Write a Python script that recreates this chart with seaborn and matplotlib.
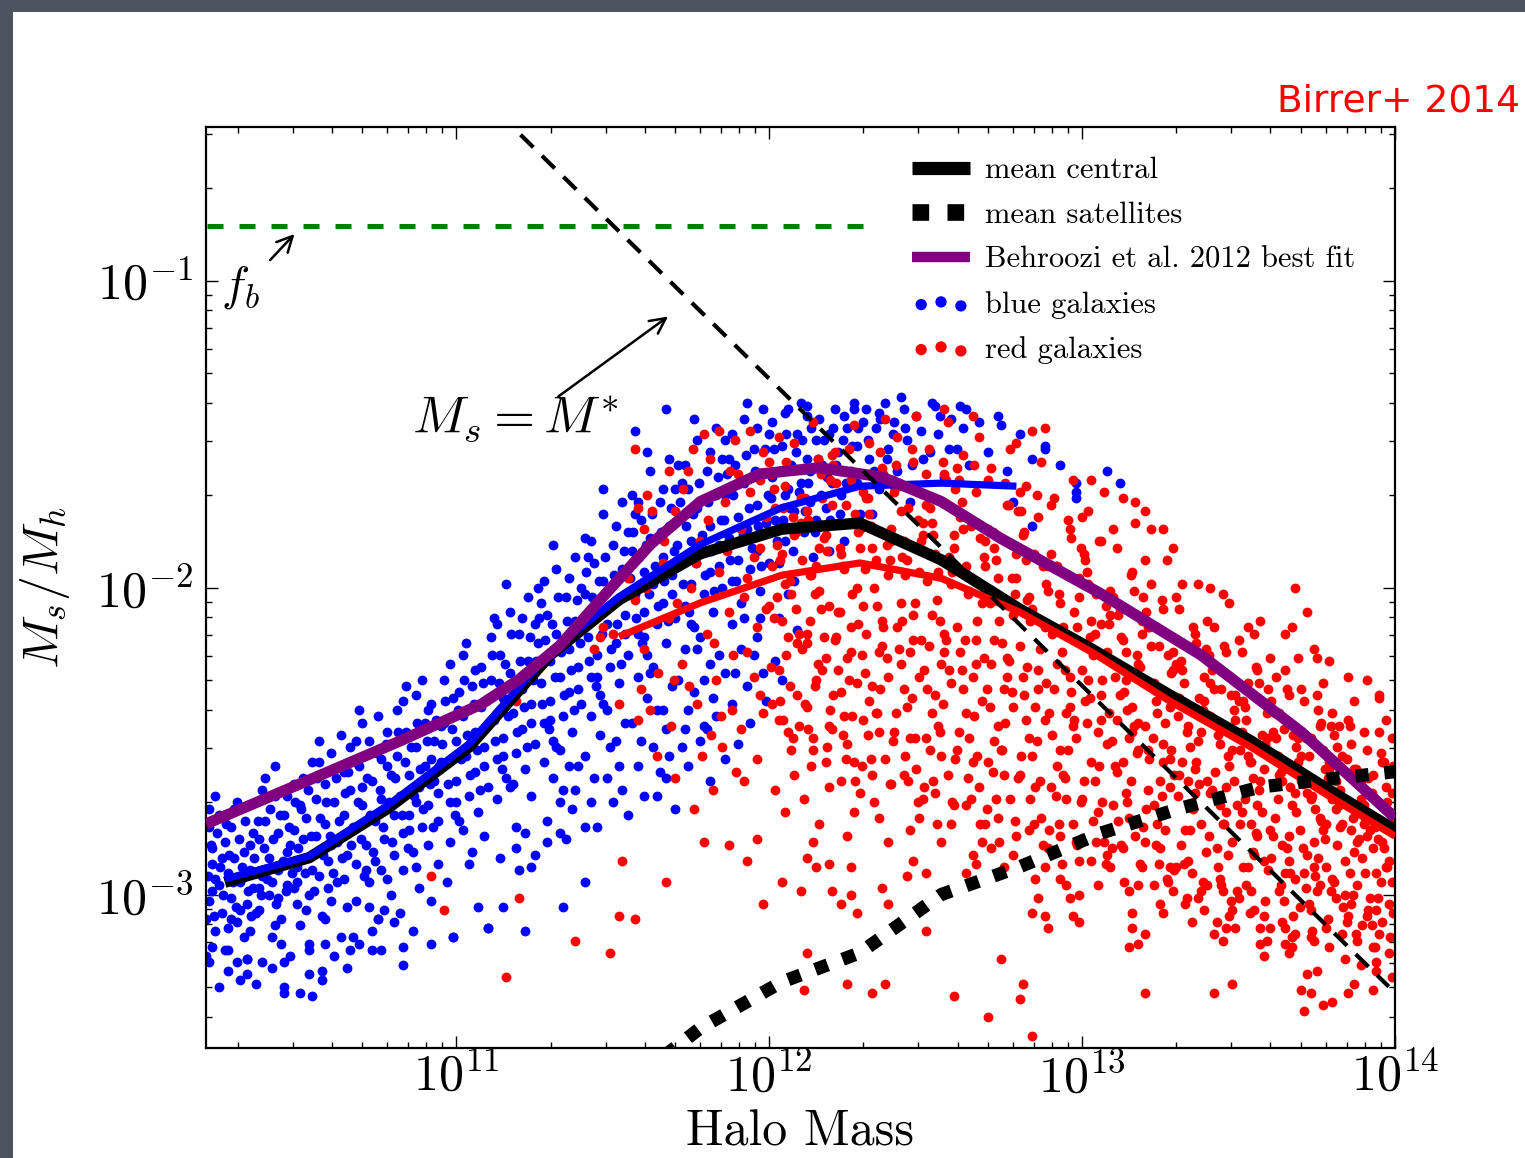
import numpy as np
import matplotlib
matplotlib.use("Agg")
import matplotlib.pyplot as plt
import seaborn as sns
from matplotlib.lines import Line2D
from matplotlib.patches import Rectangle

# ---------------- data (log10 halo mass, log10 Ms/Mh) ----------------
central_logmh = [10.26, 10.53, 10.78, 11.04, 11.30, 11.52, 11.78, 12.04, 12.29, 12.55, 12.80, 13.03, 13.28, 13.54, 13.79, 14.00]
central_logr = [-2.96, -2.88, -2.72, -2.52, -2.22, -2.04, -1.89, -1.81, -1.79, -1.91, -2.07, -2.20, -2.35, -2.50, -2.66, -2.79]

bluemean_logmh = [10.26, 10.53, 10.78, 11.04, 11.30, 11.52, 11.78, 12.04, 12.29, 12.55, 12.79]
bluemean_logr = [-2.95, -2.875, -2.71, -2.51, -2.21, -2.03, -1.86, -1.74, -1.67, -1.66, -1.67]

redmean_logmh = [11.52, 11.78, 12.04, 12.29, 12.55, 12.80, 13.03, 13.28, 13.54, 13.79, 14.00]
redmean_logr = [-2.16, -2.05, -1.96, -1.92, -1.97, -2.08, -2.21, -2.37, -2.52, -2.68, -2.81]

behroozi_logmh = [10.20, 10.50, 10.82, 11.08, 11.20, 11.33, 11.46, 11.62, 11.78, 11.97, 12.16, 12.36, 12.55, 12.74, 13.06, 13.38, 13.70, 14.00]
behroozi_logr = [-2.77, -2.64, -2.50, -2.38, -2.30, -2.19, -2.04, -1.86, -1.72, -1.63, -1.61, -1.64, -1.72, -1.84, -2.02, -2.22, -2.47, -2.75]

sat_logmh = [11.52, 11.78, 12.04, 12.29, 12.55, 12.80, 13.06, 13.31, 13.57, 13.82, 14.00]
sat_logr = [-3.64, -3.435, -3.285, -3.19, -3.00, -2.91, -2.80, -2.72, -2.65, -2.62, -2.60]

mstar_logmh = [11.00, 13.98]
mstar_logr = [-0.32, -3.30]

fb_logmh = [10.00, 12.31]
fb_logr = [-0.822, -0.822]

BLUE_PTS = [
(10.21,-2.78),(10.22,-2.90),(10.21,-3.02),(10.23,-3.12),(10.22,-2.85),(10.24,-2.97),(10.25,-3.06),(10.24,-2.74),(10.26,-2.83),(10.27,-2.93),(10.26,-3.18),(10.28,-3.01),(10.29,-2.88),(10.28,-2.78),(10.30,-3.09),(10.31,-2.96),(10.30,-2.70),(10.32,-2.86),(10.33,-3.03),(10.33,-3.21),(10.34,-2.92),(10.35,-2.80),(10.34,-3.12),(10.21,-3.22),(10.23,-2.68),(10.27,-3.25),(10.29,-2.72),(10.32,-3.14),(10.25,-2.88),(10.22,-2.99),(10.28,-3.08),(10.35,-2.98),(10.31,-3.28),(10.24,-3.30),(10.20,-3.08),(10.36,-3.06),
(10.36,-2.70),(10.37,-2.82),(10.38,-2.94),(10.37,-3.05),(10.39,-2.76),(10.40,-2.88),(10.40,-3.00),(10.41,-3.14),(10.42,-2.68),(10.43,-2.80),(10.43,-2.92),(10.44,-3.08),(10.45,-2.74),(10.46,-2.86),(10.46,-2.97),(10.47,-3.20),(10.48,-2.64),(10.48,-2.79),(10.49,-2.91),(10.49,-3.03),(10.50,-2.71),(10.38,-3.22),(10.42,-2.58),(10.45,-3.30),(10.41,-2.96),(10.47,-2.84),(10.39,-2.62),(10.44,-3.16),(10.50,-3.10),(10.36,-2.93),(10.43,-3.01),(10.48,-2.98),
(10.51,-2.62),(10.52,-2.75),(10.52,-2.88),(10.53,-3.00),(10.54,-2.57),(10.55,-2.69),(10.55,-2.81),(10.56,-2.94),(10.57,-3.07),(10.58,-2.64),(10.58,-2.77),(10.59,-2.89),(10.60,-3.02),(10.60,-2.54),(10.61,-2.70),(10.62,-2.83),(10.62,-2.96),(10.63,-3.14),(10.64,-2.60),(10.64,-2.74),(10.65,-2.87),(10.53,-3.16),(10.57,-3.25),(10.61,-3.20),(10.56,-2.50),(10.63,-2.48),(10.59,-2.98),(10.54,-2.92),(10.65,-3.04),(10.51,-2.82),
(10.66,-2.52),(10.66,-2.66),(10.67,-2.78),(10.68,-2.90),(10.68,-3.02),(10.69,-2.58),(10.70,-2.44),(10.70,-2.71),(10.71,-2.84),(10.72,-2.96),(10.72,-2.50),(10.73,-2.63),(10.74,-2.76),(10.74,-2.89),(10.75,-3.08),(10.76,-2.56),(10.76,-2.69),(10.77,-2.82),(10.78,-2.95),(10.78,-2.47),(10.79,-2.61),(10.80,-2.74),(10.80,-2.87),(10.67,-3.14),(10.73,-3.18),(10.77,-3.05),(10.69,-2.40),(10.75,-2.42),(10.71,-2.92),(10.79,-3.00),
(10.81,-2.40),(10.81,-2.55),(10.82,-2.68),(10.83,-2.80),(10.83,-2.92),(10.84,-2.47),(10.85,-2.61),(10.85,-2.74),(10.86,-2.86),(10.87,-2.35),(10.87,-2.52),(10.88,-2.65),(10.88,-2.98),(10.89,-2.78),(10.90,-2.44),(10.90,-2.58),(10.91,-2.71),(10.91,-2.84),(10.92,-2.38),(10.93,-2.50),(10.93,-2.63),(10.94,-2.76),(10.94,-2.90),(10.95,-2.45),(10.82,-3.06),(10.86,-3.12),(10.92,-3.02),(10.89,-2.30),(10.84,-2.32),(10.95,-2.57),(10.87,-2.70),(10.92,-2.56),
(10.96,-2.30),(10.96,-2.44),(10.97,-2.57),(10.98,-2.70),(10.98,-2.83),(10.99,-2.36),(11.00,-2.50),(11.00,-2.63),(11.01,-2.76),(11.02,-2.22),(11.02,-2.42),(11.03,-2.55),(11.04,-2.68),(11.04,-2.90),(11.05,-2.32),(11.06,-2.47),(11.06,-2.60),(11.07,-2.73),(11.08,-2.26),(11.08,-2.39),(11.09,-2.52),(11.09,-2.81),(11.10,-2.65),(10.99,-3.14),(11.07,-3.04),(11.10,-3.11),(10.97,-2.96),(11.03,-2.18),(11.05,-2.86),(11.01,-2.34),
(11.11,-2.16),(11.11,-2.30),(11.12,-2.43),(11.13,-2.56),(11.13,-2.69),(11.14,-2.22),(11.15,-2.36),(11.15,-2.49),(11.16,-2.62),(11.17,-2.08),(11.17,-2.28),(11.18,-2.41),(11.19,-2.54),(11.19,-2.78),(11.20,-2.15),(11.21,-2.33),(11.21,-2.46),(11.22,-2.59),(11.23,-2.03),(11.23,-2.24),(11.24,-2.38),(11.24,-2.68),(11.25,-2.12),(11.14,-2.88),(11.20,-2.92),(11.16,-1.99),(11.25,-2.51),(11.12,-2.10),(11.18,-2.64),(11.22,-2.80),
(11.26,-2.00),(11.26,-2.18),(11.27,-2.31),(11.28,-2.44),(11.28,-2.57),(11.29,-2.09),(11.30,-2.24),(11.30,-2.37),(11.31,-2.50),(11.32,-1.94),(11.32,-2.15),(11.33,-2.29),(11.34,-2.42),(11.34,-2.66),(11.35,-2.03),(11.36,-2.20),(11.36,-2.34),(11.37,-2.47),(11.38,-1.90),(11.38,-2.11),(11.39,-2.26),(11.39,-2.58),(11.40,-2.00),(11.29,-2.76),(11.35,-2.82),(11.31,-1.86),(11.40,-2.38),(11.27,-2.05),(11.33,-2.53),(11.37,-2.72),
(11.41,-1.84),(11.41,-2.02),(11.42,-2.16),(11.43,-2.29),(11.43,-2.42),(11.44,-1.92),(11.45,-2.08),(11.45,-2.22),(11.46,-2.35),(11.47,-1.76),(11.47,-1.98),(11.48,-2.12),(11.49,-2.26),(11.49,-2.52),(11.50,-1.86),(11.51,-2.04),(11.51,-2.18),(11.52,-2.31),(11.53,-1.72),(11.53,-1.94),(11.54,-2.09),(11.54,-2.44),(11.55,-1.82),(11.44,-2.62),(11.50,-2.70),(11.47,-1.68),(11.55,-2.22),(11.42,-1.90),(11.48,-2.40),(11.52,-2.58),(11.57,-1.49),
(11.56,-1.70),(11.56,-1.88),(11.57,-2.02),(11.58,-2.15),(11.58,-2.29),(11.59,-1.78),(11.60,-1.95),(11.60,-2.08),(11.61,-2.22),(11.62,-1.62),(11.62,-1.84),(11.63,-1.99),(11.64,-2.12),(11.64,-2.40),(11.65,-1.72),(11.66,-1.90),(11.66,-2.05),(11.67,-2.18),(11.68,-1.58),(11.68,-1.80),(11.69,-1.96),(11.69,-2.32),(11.70,-1.68),(11.59,-2.50),(11.65,-2.60),(11.61,-1.56),(11.70,-2.10),(11.57,-1.76),(11.63,-2.26),(11.67,-2.46),
(11.71,-1.60),(11.71,-1.78),(11.72,-1.92),(11.73,-2.06),(11.73,-2.20),(11.74,-1.68),(11.75,-1.85),(11.75,-1.99),(11.76,-2.13),(11.77,-1.52),(11.77,-1.74),(11.78,-1.89),(11.79,-2.02),(11.79,-2.30),(11.80,-1.62),(11.81,-1.80),(11.81,-1.95),(11.82,-2.08),(11.83,-1.48),(11.83,-1.70),(11.84,-1.86),(11.84,-2.22),(11.85,-1.58),(11.74,-2.40),(11.80,-2.46),(11.76,-1.45),(11.85,-2.00),(11.72,-1.66),(11.78,-2.16),(11.82,-2.36),
(11.86,-1.52),(11.86,-1.70),(11.87,-1.84),(11.88,-1.98),(11.88,-2.12),(11.89,-1.60),(11.90,-1.77),(11.90,-1.91),(11.91,-2.05),(11.92,-1.45),(11.92,-1.66),(11.93,-1.81),(11.94,-1.94),(11.95,-1.55),(11.96,-1.73),(11.96,-1.88),(11.97,-2.01),(11.98,-1.42),(11.98,-1.63),(11.99,-1.79),(12.00,-1.50),(11.89,-2.28),(11.95,-2.22),(11.93,-1.40),(12.00,-1.92),(11.87,-1.58),(11.97,-2.10),
(12.01,-1.46),(12.01,-1.64),(12.02,-1.78),(12.03,-1.92),(12.04,-1.54),(12.05,-1.70),(12.05,-1.85),(12.06,-1.42),(12.07,-1.60),(12.08,-1.75),(12.08,-1.98),(12.09,-1.50),(12.10,-1.66),(12.11,-1.82),(12.12,-1.44),(12.12,-1.58),(12.13,-1.72),(12.14,-1.90),(12.15,-1.52),(12.03,-2.10),(12.10,-1.40),(12.06,-1.68),(12.13,-1.62),(12.15,-1.78),
(12.16,-1.45),(12.17,-1.60),(12.18,-1.74),(12.19,-1.50),(12.20,-1.66),(12.21,-1.42),(12.22,-1.56),(12.23,-1.70),(12.24,-1.85),(12.25,-1.48),(12.26,-1.62),(12.27,-1.40),(12.28,-1.54),(12.29,-1.76),(12.30,-1.46),(12.19,-1.88),(12.24,-1.44),(12.28,-1.66),
(12.31,-1.42),(12.32,-1.58),(12.34,-1.48),(12.35,-1.68),(12.37,-1.40),(12.38,-1.55),(12.40,-1.46),(12.41,-1.62),(12.43,-1.42),(12.44,-1.52),(12.45,-1.72),(12.33,-1.76),(12.39,-1.84),(12.42,-1.38),
(12.47,-1.44),(12.49,-1.58),(12.52,-1.40),(12.54,-1.50),(12.56,-1.64),(12.58,-1.45),(12.60,-1.55),(12.63,-1.42),(12.64,-1.60),(12.50,-1.70),
(12.67,-1.46),(12.70,-1.56),(12.73,-1.44),(12.76,-1.62),(12.80,-1.50),(12.84,-1.58),(12.88,-1.54),(12.93,-1.60),(12.98,-1.66),(13.08,-1.62),(12.78,-1.72),
(11.67,-1.42),(12.05,-1.43),(12.12,-1.41),(12.27,-1.42),(12.35,-1.43),(12.53,-1.41),(12.61,-1.41),(12.74,-1.47),(12.88,-1.55),(12.98,-1.69),(13.12,-1.66),(12.98,-1.71),(12.84,-1.80),
(10.22,-3.17),(10.27,-3.18),(10.30,-3.22),(10.33,-3.26),(10.36,-3.29),(10.33,-3.21),(10.41,-3.24),(10.45,-3.32),(10.50,-3.32),(10.54,-3.33),(10.53,-3.26),(10.57,-3.28),(10.53,-3.18),(10.58,-3.16),(10.65,-3.24),(10.66,-3.18),(10.69,-3.16),(10.76,-3.18),(10.83,-3.17),(10.83,-3.23),(10.92,-3.16),(10.99,-3.14),(11.10,-3.11),(10.45,-3.22),(10.75,-3.08),(10.73,-3.12),(10.80,-3.09),(10.20,-3.20),
(11.19,-2.85),(11.25,-2.87),(11.24,-2.91),(11.41,-2.96),(11.34,-3.04),(11.22,-3.12),(11.15,-3.04),(11.33,-2.80),(11.41,-2.78),(11.29,-2.83),(11.60,-2.68),(11.67,-2.62),(11.74,-2.58),(11.81,-2.63),(11.90,-2.51),(11.99,-2.37),(11.72,-2.52),(11.79,-2.45),
(10.205,-2.94),(10.215,-2.84),(10.225,-3.07),(10.235,-2.80),(10.245,-2.91),(10.255,-3.00),(10.265,-2.77),(10.275,-2.87),(10.285,-2.96),(10.295,-3.04),(10.305,-2.82),(10.315,-2.91),(10.325,-2.76),(10.335,-2.99),(10.345,-3.07),(10.23,-2.95),(10.27,-3.11),(10.31,-3.05),(10.21,-2.72),(10.34,-2.84),
(10.355,-2.88),(10.365,-2.76),(10.375,-3.00),(10.385,-2.85),(10.395,-2.95),(10.405,-2.72),(10.415,-2.82),(10.425,-3.03),(10.435,-2.74),(10.445,-2.89),(10.455,-2.99),(10.465,-2.78),(10.475,-2.93),(10.485,-2.70),(10.495,-2.85),(10.38,-2.66),(10.42,-3.10),(10.46,-2.68),(10.37,-2.98),(10.49,-2.96),
(10.505,-2.72),(10.515,-2.93),(10.525,-2.66),(10.535,-2.81),(10.545,-2.99),(10.555,-2.62),(10.565,-2.75),(10.575,-2.87),(10.585,-2.70),(10.595,-2.81),(10.605,-2.93),(10.615,-2.62),(10.625,-2.76),(10.635,-2.88),(10.645,-2.67),(10.52,-3.05),(10.56,-2.57),(10.60,-2.84),(10.64,-2.95),(10.58,-3.08),
(10.655,-2.60),(10.665,-2.84),(10.675,-2.57),(10.685,-2.70),(10.695,-2.82),(10.705,-2.94),(10.715,-2.62),(10.725,-2.74),(10.735,-2.86),(10.745,-2.54),(10.755,-2.66),(10.765,-2.78),(10.775,-2.51),(10.785,-2.70),(10.795,-2.83),(10.68,-2.50),(10.72,-3.04),(10.76,-2.92),(10.70,-2.65),(10.78,-2.58),
(10.805,-2.62),(10.815,-2.47),(10.825,-2.74),(10.835,-2.57),(10.845,-2.85),(10.855,-2.52),(10.865,-2.68),(10.875,-2.44),(10.885,-2.59),(10.895,-2.72),(10.905,-2.50),(10.915,-2.64),(10.925,-2.78),(10.935,-2.43),(10.945,-2.58),(10.83,-2.37),(10.87,-2.91),(10.91,-2.40),(10.85,-2.79),(10.94,-2.67),
(10.955,-2.51),(10.965,-2.37),(10.975,-2.64),(10.985,-2.46),(10.995,-2.74),(11.005,-2.40),(11.015,-2.56),(11.025,-2.30),(11.035,-2.48),(11.045,-2.61),(11.055,-2.38),(11.065,-2.53),(11.075,-2.66),(11.085,-2.31),(11.095,-2.45),(10.98,-2.25),(11.02,-2.79),(11.06,-2.27),(11.00,-2.70),(11.09,-2.58),
(11.105,-2.36),(11.115,-2.22),(11.125,-2.50),(11.135,-2.31),(11.145,-2.59),(11.155,-2.25),(11.165,-2.42),(11.175,-2.15),(11.185,-2.33),(11.195,-2.47),(11.205,-2.24),(11.215,-2.39),(11.225,-2.52),(11.235,-2.16),(11.245,-2.30),(11.13,-2.12),(11.17,-2.65),(11.21,-2.10),(11.15,-2.55),(11.24,-2.44),
(11.255,-2.24),(11.265,-2.10),(11.275,-2.38),(11.285,-2.17),(11.295,-2.46),(11.305,-2.12),(11.315,-2.29),(11.325,-2.03),(11.335,-2.21),(11.345,-2.35),(11.355,-2.11),(11.365,-2.27),(11.375,-2.40),(11.385,-2.04),(11.395,-2.18),(11.28,-1.98),(11.32,-2.52),(11.36,-1.97),(11.30,-2.43),(11.39,-2.33),
(11.405,-2.10),(11.415,-1.95),(11.425,-2.24),(11.435,-2.03),(11.445,-2.32),(11.455,-1.98),(11.465,-2.15),(11.475,-1.90),(11.485,-2.06),(11.495,-2.20),(11.505,-1.96),(11.515,-2.12),(11.525,-2.25),(11.535,-1.88),(11.545,-2.02),(11.43,-1.85),(11.47,-2.38),(11.51,-1.80),(11.45,-2.29),(11.54,-2.15),
(11.555,-1.97),(11.565,-1.82),(11.575,-2.10),(11.585,-1.90),(11.595,-2.18),(11.605,-1.86),(11.615,-2.02),(11.625,-1.76),(11.635,-1.93),(11.645,-2.06),(11.655,-1.82),(11.665,-1.98),(11.675,-2.11),(11.685,-1.74),(11.695,-1.88),(11.58,-1.72),(11.62,-2.28),(11.66,-1.68),(11.60,-2.16),(11.69,-2.02),
(11.705,-1.86),(11.715,-1.72),(11.725,-1.99),(11.735,-1.80),(11.745,-2.08),(11.755,-1.76),(11.765,-1.92),(11.775,-1.66),(11.785,-1.83),(11.795,-1.96),(11.805,-1.72),(11.815,-1.88),(11.825,-2.01),(11.835,-1.64),(11.845,-1.78),(11.73,-1.60),(11.77,-2.20),(11.81,-1.56),(11.75,-2.12),(11.84,-1.93),
(11.855,-1.78),(11.865,-1.63),(11.875,-1.91),(11.885,-1.70),(11.895,-1.98),(11.905,-1.66),(11.915,-1.83),(11.925,-1.57),(11.935,-1.74),(11.945,-1.87),(11.955,-1.62),(11.965,-1.80),(11.975,-1.93),(11.985,-1.55),(11.995,-1.70),(11.88,-1.50),(11.92,-2.10),(11.96,-1.48),
(12.005,-1.71),(12.015,-1.55),(12.025,-1.85),(12.035,-1.62),(12.045,-1.78),(12.055,-1.50),(12.065,-1.74),(12.075,-1.88),(12.085,-1.56),(12.095,-1.69),(12.105,-1.52),(12.115,-1.75),(12.125,-1.66),(12.135,-1.48),(12.145,-1.82),
(12.155,-1.58),(12.165,-1.70),(12.175,-1.52),(12.185,-1.64),(12.195,-1.78),(12.205,-1.48),(12.215,-1.60),(12.225,-1.76),(12.235,-1.52),(12.245,-1.66),(12.265,-1.54),(12.285,-1.48),
(12.315,-1.52),(12.335,-1.62),(12.355,-1.45),(12.375,-1.58),(12.395,-1.50),(12.415,-1.66),(12.435,-1.48),(12.455,-1.60),(12.485,-1.49),(12.515,-1.56),(12.545,-1.44),(12.575,-1.55),(12.62,-1.48),
(11.31,-2.62),(11.33,-2.70),(11.36,-2.58),(11.38,-2.66),(11.41,-2.55),(11.43,-2.70),(11.46,-2.48),(11.48,-2.62),(11.51,-2.50),(11.53,-2.66),(11.56,-2.44),(11.58,-2.58),(11.61,-2.36),(11.63,-2.52),(11.66,-2.40),(11.68,-2.55),(11.71,-2.30),(11.73,-2.46),(11.76,-2.34),(11.78,-2.50),(11.81,-2.25),(11.83,-2.42),(11.86,-2.28),(11.88,-2.38),(11.91,-2.20),(11.93,-2.32),(11.96,-2.16),(11.98,-2.28),(11.45,-2.78),(11.55,-2.74),(11.64,-2.68),(11.70,-2.72),(11.86,-2.56),(11.94,-2.44),(12.02,-2.24),(12.06,-2.02),(12.09,-2.14),(12.04,-2.30),
]

RED_PTS = [
(11.57,-1.55),(11.58,-1.74),(11.60,-1.81),(11.61,-1.70),(11.55,-1.97),(11.57,-2.04),(11.47,-2.13),(11.46,-2.16),(11.50,-2.15),(11.44,-2.20),(11.60,-2.20),(11.59,-2.33),(11.52,-2.38),(11.58,-2.43),(11.66,-1.92),(11.68,-2.10),(11.70,-1.75),(11.72,-2.25),(11.74,-1.62),(11.75,-2.00),(11.77,-2.38),(11.78,-1.85),(11.80,-2.15),(11.81,-1.58),(11.83,-2.30),(11.84,-1.95),(11.85,-2.52),(11.86,-1.72),(11.87,-2.08),(11.88,-2.40),(11.89,-1.52),(11.64,-2.55),(11.70,-2.62),(11.76,-2.72),(11.82,-2.66),(11.68,-1.62),(11.79,-1.50),(11.62,-2.40),(11.84,-1.49),
(11.605,-2.00),(11.625,-1.75),(11.645,-2.28),(11.665,-1.85),(11.685,-2.45),(11.705,-2.05),(11.725,-1.68),(11.745,-2.32),(11.765,-1.92),(11.785,-2.55),(11.805,-1.78),(11.825,-2.18),(11.845,-2.42),(11.865,-1.88),(11.885,-2.22),(11.895,-2.60),(11.875,-1.62),(11.815,-2.48),(11.755,-1.55),(11.695,-2.30),
(11.90,-1.63),(11.91,-1.81),(11.92,-2.03),(11.93,-2.21),(11.94,-1.69),(11.95,-1.90),(11.96,-2.13),(11.97,-2.35),(11.98,-1.56),(11.99,-1.77),(11.91,-2.46),(11.93,-1.97),(11.95,-2.29),(11.97,-1.65),(11.99,-2.07),(11.92,-2.63),(11.96,-2.56),(11.98,-2.41),(11.94,-1.49),(11.97,-1.87),
(12.00,-1.59),(12.02,-1.74),(12.01,-1.93),(12.04,-2.11),(12.03,-2.27),(12.06,-2.47),(12.05,-1.67),(12.08,-1.83),(12.07,-2.02),(12.09,-2.18),(12.01,-2.38),(12.03,-1.51),(12.05,-1.99),(12.07,-2.53),(12.10,-1.71),(12.02,-2.66),(12.04,-1.89),(12.06,-2.16),(12.09,-2.35),(12.00,-2.06),(12.08,-1.53),(12.05,-2.73),(12.08,-2.61),(12.03,-2.43),
(12.11,-1.61),(12.10,-1.79),(12.13,-1.96),(12.12,-2.15),(12.15,-2.30),(12.14,-2.49),(12.17,-1.71),(12.16,-1.87),(12.19,-2.06),(12.18,-2.23),(12.12,-2.39),(12.14,-1.46),(12.16,-2.01),(12.18,-2.57),(12.20,-1.57),(12.11,-2.69),(12.15,-1.93),(12.17,-2.27),(12.19,-2.45),(12.13,-2.11),(12.12,-1.75),(12.16,-2.77),(12.19,-2.65),(12.14,-2.53),(12.18,-1.83),
(12.21,-1.56),(12.20,-1.73),(12.23,-1.89),(12.22,-2.08),(12.25,-2.23),(12.24,-2.42),(12.27,-2.57),(12.26,-1.65),(12.29,-1.81),(12.28,-2.00),(12.21,-2.17),(12.23,-2.34),(12.25,-2.51),(12.27,-1.47),(12.29,-2.67),(12.22,-1.79),(12.24,-1.94),(12.26,-2.13),(12.28,-2.31),(12.30,-1.69),(12.20,-2.46),(12.25,-2.81),(12.27,-2.73),(12.23,-2.63),(12.29,-1.87),(12.26,-2.21),
(12.32,-1.53),(12.31,-1.71),(12.33,-1.87),(12.30,-2.06),(12.35,-2.21),(12.34,-2.41),(12.37,-2.56),(12.36,-1.61),(12.39,-1.81),(12.38,-1.96),(12.31,-2.15),(12.33,-2.32),(12.35,-2.47),(12.37,-1.45),(12.39,-2.64),(12.32,-1.76),(12.34,-1.91),(12.36,-2.11),(12.38,-2.29),(12.40,-1.67),(12.30,-2.43),(12.35,-2.75),(12.38,-2.83),(12.33,-2.61),(12.39,-1.85),(12.36,-2.19),
(12.41,-1.51),(12.40,-1.69),(12.43,-1.85),(12.42,-2.05),(12.45,-2.21),(12.44,-2.39),(12.47,-2.59),(12.46,-1.59),(12.49,-1.79),(12.48,-1.95),(12.41,-2.13),(12.43,-2.33),(12.45,-2.49),(12.47,-1.44),(12.49,-2.69),(12.42,-1.75),(12.44,-1.91),(12.46,-2.09),(12.48,-2.29),(12.50,-1.63),(12.40,-2.47),(12.45,-2.79),(12.48,-2.75),(12.43,-2.61),(12.49,-1.83),(12.46,-2.17),
(12.51,-1.55),(12.50,-1.73),(12.53,-1.89),(12.52,-2.09),(12.55,-2.25),(12.54,-2.45),(12.57,-2.61),(12.56,-1.63),(12.59,-1.83),(12.58,-1.99),(12.51,-2.19),(12.53,-2.35),(12.55,-2.55),(12.57,-1.46),(12.59,-2.71),(12.52,-1.79),(12.54,-1.95),(12.56,-2.15),(12.58,-2.31),(12.60,-1.61),(12.50,-2.49),(12.55,-2.83),(12.58,-2.77),(12.53,-2.67),(12.59,-1.87),(12.56,-2.21),
(12.62,-1.57),(12.61,-1.77),(12.63,-1.93),(12.60,-2.13),(12.65,-2.29),(12.64,-2.49),(12.67,-2.65),(12.66,-1.69),(12.69,-1.85),(12.68,-2.05),(12.61,-2.21),(12.63,-2.41),(12.65,-2.57),(12.67,-1.51),(12.69,-2.77),(12.62,-1.81),(12.64,-2.01),(12.66,-2.17),(12.68,-2.37),(12.70,-1.65),(12.60,-2.53),(12.65,-2.87),(12.68,-2.83),(12.63,-2.71),(12.69,-1.93),(12.66,-2.25),
(12.71,-1.61),(12.70,-1.81),(12.73,-1.97),(12.72,-2.17),(12.75,-2.33),(12.74,-2.53),(12.77,-2.69),(12.76,-1.73),(12.79,-1.89),(12.78,-2.09),(12.71,-2.25),(12.73,-2.45),(12.75,-2.61),(12.77,-1.55),(12.79,-2.81),(12.72,-1.87),(12.74,-2.03),(12.76,-2.23),(12.78,-2.39),(12.80,-1.69),(12.70,-2.57),(12.75,-2.91),(12.78,-2.87),(12.73,-2.75),(12.79,-1.97),(12.76,-2.29),
(12.82,-1.67),(12.81,-1.83),(12.83,-2.03),(12.80,-2.19),(12.85,-2.39),(12.84,-2.55),(12.87,-2.75),(12.86,-1.77),(12.89,-1.93),(12.88,-2.13),(12.81,-2.29),(12.83,-2.49),(12.85,-2.65),(12.87,-1.59),(12.89,-2.85),(12.82,-1.91),(12.84,-2.07),(12.86,-2.27),(12.88,-2.43),(12.90,-1.73),(12.80,-2.61),(12.85,-2.95),(12.88,-2.91),(12.83,-2.79),(12.89,-2.01),(12.86,-2.33),
(12.91,-1.71),(12.90,-1.89),(12.93,-2.05),(12.92,-2.25),(12.95,-2.41),(12.94,-2.61),(12.97,-2.77),(12.96,-1.81),(12.99,-1.97),(12.98,-2.17),(12.91,-2.33),(12.93,-2.53),(12.95,-2.69),(12.97,-1.65),(12.99,-2.89),(12.92,-1.93),(12.94,-2.13),(12.96,-2.29),(12.98,-2.49),(13.00,-1.77),(12.90,-2.65),(12.95,-2.97),(12.98,-2.83),(12.93,-2.81),(12.99,-2.03),(12.96,-2.39),
(13.02,-1.75),(13.01,-1.91),(13.03,-2.11),(13.00,-2.27),(13.05,-2.47),(13.04,-2.63),(13.07,-2.83),(13.06,-1.85),(13.09,-2.01),(13.08,-2.21),(13.01,-2.37),(13.03,-2.57),(13.05,-2.73),(13.07,-1.69),(13.09,-2.91),(13.02,-1.99),(13.04,-2.15),(13.06,-2.35),(13.08,-2.51),(13.10,-1.81),(13.00,-2.69),(13.05,-2.97),(13.08,-2.87),(13.03,-2.89),(13.09,-2.09),(13.06,-2.43),
(13.11,-1.87),(13.10,-2.03),(13.13,-2.17),(13.12,-2.35),(13.15,-2.49),(13.14,-2.67),(13.17,-2.81),(13.16,-1.95),(13.19,-2.11),(13.18,-2.25),(13.11,-2.43),(13.13,-2.57),(13.15,-2.75),(13.17,-1.79),(13.19,-2.91),(13.12,-2.07),(13.14,-2.21),(13.16,-2.39),(13.18,-2.53),(13.20,-1.91),(13.10,-2.71),(13.15,-2.99),(13.18,-2.97),(13.13,-2.85),(13.19,-2.15),(13.16,-2.47),
(13.22,-1.99),(13.21,-2.13),(13.23,-2.31),(13.20,-2.45),(13.25,-2.63),(13.24,-2.77),(13.27,-2.95),(13.26,-2.07),(13.29,-2.21),(13.28,-2.39),(13.21,-2.53),(13.23,-2.71),(13.25,-2.85),(13.27,-1.91),(13.29,-2.99),(13.22,-2.19),(13.24,-2.33),(13.26,-2.51),(13.28,-2.65),(13.30,-2.03),(13.20,-2.83),(13.25,-3.03),(13.28,-2.91),(13.23,-2.97),(13.29,-2.27),(13.26,-2.57),
(13.31,-2.07),(13.30,-2.25),(13.33,-2.39),(13.32,-2.57),(13.35,-2.71),(13.34,-2.89),(13.37,-3.01),(13.36,-2.15),(13.39,-2.29),(13.38,-2.47),(13.31,-2.61),(13.33,-2.79),(13.35,-2.93),(13.37,-1.99),(13.39,-3.05),(13.32,-2.27),(13.34,-2.45),(13.36,-2.59),(13.38,-2.77),(13.40,-2.11),(13.30,-2.91),(13.35,-3.09),(13.38,-2.99),(13.33,-3.03),(13.39,-2.37),(13.36,-2.67),
(13.42,-2.13),(13.41,-2.31),(13.43,-2.45),(13.40,-2.63),(13.45,-2.77),(13.44,-2.95),(13.47,-3.07),(13.46,-2.21),(13.49,-2.35),(13.48,-2.53),(13.41,-2.67),(13.43,-2.85),(13.45,-2.99),(13.47,-2.05),(13.49,-3.11),(13.42,-2.33),(13.44,-2.51),(13.46,-2.65),(13.48,-2.83),(13.50,-2.17),(13.40,-2.97),(13.45,-3.15),(13.48,-3.05),(13.43,-3.09),(13.49,-2.43),(13.46,-2.73),
(13.51,-2.21),(13.50,-2.37),(13.53,-2.55),(13.52,-2.69),(13.55,-2.87),(13.54,-2.99),(13.57,-3.11),(13.56,-2.27),(13.59,-2.41),(13.58,-2.59),(13.51,-2.73),(13.53,-2.91),(13.55,-3.05),(13.57,-2.11),(13.59,-3.15),(13.52,-2.39),(13.54,-2.57),(13.56,-2.71),(13.58,-2.89),(13.60,-2.23),(13.50,-3.01),(13.55,-2.15),(13.58,-3.07),(13.53,-2.31),(13.59,-2.49),(13.56,-2.81),
(13.62,-2.29),(13.61,-2.47),(13.63,-2.61),(13.60,-2.79),(13.65,-2.93),(13.64,-3.09),(13.67,-3.17),(13.66,-2.35),(13.69,-2.49),(13.68,-2.67),(13.61,-2.81),(13.63,-2.99),(13.65,-3.11),(13.67,-2.13),(13.69,-2.23),(13.62,-2.49),(13.64,-2.63),(13.66,-2.81),(13.68,-2.95),(13.70,-2.33),(13.60,-3.11),(13.65,-2.27),(13.68,-3.13),(13.63,-2.41),(13.69,-2.57),(13.66,-2.89),
(13.71,-2.37),(13.70,-2.55),(13.73,-2.69),(13.72,-2.87),(13.75,-2.99),(13.74,-3.15),(13.77,-2.31),(13.76,-2.45),(13.79,-2.59),(13.78,-2.77),(13.71,-2.93),(13.73,-3.05),(13.75,-2.23),(13.77,-2.53),(13.79,-3.17),(13.72,-2.67),(13.74,-2.83),(13.76,-2.97),(13.78,-3.11),(13.80,-2.41),(13.70,-2.63),(13.75,-2.35),(13.78,-2.91),(13.73,-2.49),(13.79,-2.57),(13.76,-2.75),
(13.82,-2.45),(13.81,-2.63),(13.83,-2.77),(13.80,-2.95),(13.85,-3.07),(13.84,-3.21),(13.87,-2.37),(13.86,-2.51),(13.89,-2.69),(13.88,-2.83),(13.81,-3.01),(13.83,-3.13),(13.85,-2.29),(13.87,-2.59),(13.89,-3.23),(13.82,-2.71),(13.84,-2.89),(13.86,-3.03),(13.88,-3.15),(13.90,-2.47),(13.80,-2.69),(13.85,-2.43),(13.88,-2.97),(13.83,-2.55),(13.89,-2.63),(13.86,-2.79),
(13.91,-2.53),(13.90,-2.71),(13.93,-2.85),(13.92,-3.01),(13.95,-3.13),(13.94,-3.25),(13.97,-2.43),(13.96,-2.57),(13.99,-2.75),(13.98,-2.89),(13.91,-3.07),(13.93,-3.17),(13.95,-2.35),(13.97,-2.65),(13.99,-3.27),(13.92,-2.79),(13.94,-2.93),(13.96,-3.09),(13.98,-3.19),(13.99,-2.49),(13.90,-2.77),(13.95,-2.47),(13.98,-3.03),(13.93,-2.61),(13.99,-2.67),(13.96,-2.83),
(13.02,-2.30),(13.06,-2.12),(13.11,-2.60),(13.14,-2.30),(13.18,-2.44),(13.21,-2.66),(13.24,-2.41),(13.28,-2.56),(13.31,-2.36),(13.34,-2.63),(13.37,-2.50),(13.41,-2.42),(13.44,-2.71),(13.47,-2.58),(13.51,-2.47),(13.54,-2.77),(13.57,-2.63),(13.61,-2.55),(13.64,-2.84),(13.67,-2.71),(13.71,-2.61),(13.74,-2.91),(13.77,-2.79),(13.81,-2.72),(13.84,-3.00),(13.87,-2.86),(13.91,-2.81),(13.94,-3.05),(13.97,-2.91),(13.99,-2.96),(12.12,-2.18),(12.22,-2.27),(12.32,-2.37),(12.42,-2.25),(12.52,-2.41),(12.62,-2.33),(12.72,-2.50),(12.82,-2.43),(12.92,-2.58),(12.97,-2.45),
(12.005,-1.63),(12.015,-2.10),(12.025,-1.86),(12.035,-2.37),(12.045,-1.74),(12.055,-2.22),(12.065,-1.98),(12.075,-2.49),(12.085,-1.82),(12.095,-2.15),(12.005,-2.26),(12.015,-1.68),(12.025,-2.03),(12.035,-1.91),(12.045,-2.43),(12.055,-1.59),(12.065,-2.32),(12.075,-1.77),(12.085,-2.07),(12.095,-2.45),
(12.105,-2.20),(12.115,-1.71),(12.125,-2.46),(12.135,-1.96),(12.145,-2.32),(12.155,-1.58),(12.165,-2.07),(12.175,-1.84),(12.185,-2.52),(12.195,-1.65),(12.105,-1.91),(12.115,-2.38),(12.125,-1.78),(12.135,-2.58),(12.145,-2.02),(12.155,-2.25),(12.165,-1.63),(12.175,-2.16),(12.185,-1.88),(12.195,-2.40),
(12.205,-1.60),(12.215,-2.16),(12.225,-1.87),(12.235,-2.48),(12.245,-1.73),(12.255,-2.30),(12.265,-2.02),(12.275,-2.63),(12.285,-1.82),(12.295,-2.22),(12.205,-2.35),(12.215,-1.66),(12.225,-2.08),(12.235,-1.93),(12.245,-2.56),(12.255,-1.55),(12.265,-2.42),(12.275,-1.76),(12.285,-2.12),(12.295,-2.58),
(12.305,-2.28),(12.315,-1.71),(12.325,-2.56),(12.335,-2.00),(12.345,-2.41),(12.355,-1.56),(12.365,-2.13),(12.375,-1.86),(12.385,-2.64),(12.395,-1.65),(12.305,-1.94),(12.315,-2.48),(12.325,-1.80),(12.335,-2.70),(12.345,-2.06),(12.355,-2.33),(12.365,-1.63),(12.375,-2.23),(12.385,-1.91),(12.395,-2.50),
(12.405,-1.60),(12.415,-2.20),(12.425,-1.90),(12.435,-2.55),(12.445,-1.74),(12.455,-2.36),(12.465,-2.05),(12.475,-2.70),(12.485,-1.85),(12.495,-2.27),(12.405,-2.41),(12.415,-1.67),(12.425,-2.11),(12.435,-1.96),(12.445,-2.63),(12.455,-1.55),(12.465,-2.49),(12.475,-1.78),(12.485,-2.17),(12.495,-2.65),
(12.505,-2.33),(12.515,-1.74),(12.525,-2.63),(12.535,-2.04),(12.545,-2.47),(12.555,-1.59),(12.565,-2.17),(12.575,-1.90),(12.585,-2.70),(12.595,-1.68),(12.505,-1.98),(12.515,-2.53),(12.525,-1.83),(12.535,-2.77),(12.545,-2.11),(12.555,-2.38),(12.565,-1.65),(12.575,-2.27),(12.585,-1.95),(12.595,-2.56),
(12.605,-1.65),(12.615,-2.27),(12.625,-1.95),(12.635,-2.62),(12.645,-1.80),(12.655,-2.42),(12.665,-2.11),(12.675,-2.77),(12.685,-1.90),(12.695,-2.33),(12.605,-2.47),(12.615,-1.72),(12.625,-2.17),(12.635,-2.02),(12.645,-2.69),(12.655,-1.60),(12.665,-2.55),(12.675,-1.84),(12.685,-2.23),(12.695,-2.72),
(12.705,-2.39),(12.715,-1.82),(12.725,-2.69),(12.735,-2.11),(12.745,-2.53),(12.755,-1.66),(12.765,-2.24),(12.775,-1.97),(12.785,-2.76),(12.795,-1.75),(12.705,-2.05),(12.715,-2.60),(12.725,-1.91),(12.735,-2.83),(12.745,-2.18),(12.755,-2.44),(12.765,-1.73),(12.775,-2.34),(12.785,-2.02),(12.795,-2.62),
(12.805,-1.75),(12.815,-2.35),(12.825,-2.04),(12.835,-2.69),(12.845,-1.89),(12.855,-2.50),(12.865,-2.20),(12.875,-2.84),(12.885,-1.99),(12.895,-2.41),(12.805,-2.55),(12.815,-1.82),(12.825,-2.26),(12.835,-2.11),(12.845,-2.77),(12.855,-1.70),(12.865,-2.63),(12.875,-1.93),(12.885,-2.31),(12.895,-2.79),
(12.905,-2.48),(12.915,-1.93),(12.925,-2.77),(12.935,-2.21),(12.945,-2.62),(12.955,-1.78),(12.965,-2.34),(12.975,-2.08),(12.985,-2.84),(12.995,-1.87),(12.905,-2.15),(12.915,-2.68),(12.925,-2.02),(12.935,-2.90),(12.945,-2.27),(12.955,-2.53),(12.965,-1.84),(12.975,-2.43),(12.985,-2.13),(12.995,-2.70),
(13.005,-1.89),(13.015,-2.44),(13.025,-2.16),(13.035,-2.76),(13.045,-2.02),(13.055,-2.58),(13.065,-2.30),(13.075,-2.90),(13.085,-2.12),(13.095,-2.50),(13.005,-2.63),(13.015,-1.95),(13.025,-2.36),(13.035,-2.22),(13.045,-2.83),(13.055,-1.85),(13.065,-2.70),(13.075,-2.06),(13.085,-2.41),(13.095,-2.85),
(13.105,-2.58),(13.115,-2.09),(13.125,-2.84),(13.135,-2.34),(13.145,-2.70),(13.155,-1.96),(13.165,-2.45),(13.175,-2.22),(13.185,-2.90),(13.195,-2.03),(13.105,-2.29),(13.115,-2.76),(13.125,-2.16),(13.135,-2.96),(13.145,-2.40),(13.155,-2.63),(13.165,-2.01),(13.175,-2.54),(13.185,-2.26),(13.195,-2.78),
(13.205,-2.08),(13.215,-2.56),(13.225,-2.32),(13.235,-2.84),(13.245,-2.19),(13.255,-2.68),(13.265,-2.44),(13.275,-2.96),(13.285,-2.28),(13.295,-2.61),(13.205,-2.72),(13.215,-2.13),(13.225,-2.49),(13.235,-2.37),(13.245,-2.90),(13.255,-2.04),(13.265,-2.79),(13.275,-2.22),(13.285,-2.53),(13.295,-2.92),
(13.305,-2.68),(13.315,-2.24),(13.325,-2.90),(13.335,-2.47),(13.345,-2.79),(13.355,-2.13),(13.365,-2.57),(13.375,-2.36),(13.385,-2.96),(13.395,-2.20),(13.305,-2.42),(13.315,-2.84),(13.325,-2.31),(13.335,-3.01),(13.345,-2.52),(13.355,-2.72),(13.365,-2.18),(13.375,-2.64),(13.385,-2.40),(13.395,-2.86),
(13.405,-2.22),(13.415,-2.66),(13.425,-2.44),(13.435,-2.91),(13.445,-2.33),(13.455,-2.77),(13.465,-2.55),(13.475,-3.02),(13.485,-2.40),(13.495,-2.71),(13.405,-2.81),(13.415,-2.27),(13.425,-2.60),(13.435,-2.48),(13.445,-2.97),(13.455,-2.19),(13.465,-2.87),(13.475,-2.35),(13.485,-2.63),(13.495,-2.99),
(13.505,-2.77),(13.515,-2.37),(13.525,-2.97),(13.535,-2.57),(13.545,-2.86),(13.555,-2.26),(13.565,-2.66),(13.575,-2.48),(13.585,-3.02),(13.595,-2.33),(13.505,-2.53),(13.515,-2.91),(13.525,-2.43),(13.535,-3.06),(13.545,-2.62),(13.555,-2.80),(13.565,-2.31),(13.575,-2.73),(13.585,-2.51),(13.595,-2.92),
(13.605,-2.37),(13.615,-2.75),(13.625,-2.55),(13.635,-2.97),(13.645,-2.46),(13.655,-2.85),(13.665,-2.65),(13.675,-3.07),(13.685,-2.52),(13.695,-2.79),(13.605,-2.88),(13.615,-2.41),(13.625,-2.69),(13.635,-2.60),(13.645,-3.02),(13.655,-2.33),(13.665,-2.93),(13.675,-2.48),(13.685,-2.73),(13.695,-3.04),
(13.705,-2.85),(13.715,-2.49),(13.725,-3.03),(13.735,-2.68),(13.745,-2.94),(13.755,-2.40),(13.765,-2.76),(13.775,-2.59),(13.785,-3.08),(13.795,-2.45),(13.705,-2.64),(13.715,-2.98),(13.725,-2.55),(13.735,-3.12),(13.745,-2.72),(13.755,-2.88),(13.765,-2.44),(13.775,-2.82),(13.785,-2.62),(13.795,-2.99),
(13.805,-2.48),(13.815,-2.84),(13.825,-2.66),(13.835,-3.04),(13.845,-2.56),(13.855,-2.93),(13.865,-2.75),(13.875,-3.13),(13.885,-2.63),(13.895,-2.88),(13.805,-2.96),(13.815,-2.52),(13.825,-2.78),(13.835,-2.69),(13.845,-3.09),(13.855,-2.45),(13.865,-3.00),(13.875,-2.59),(13.885,-2.82),(13.895,-3.10),
(13.905,-2.93),(13.915,-2.62),(13.925,-3.10),(13.935,-2.78),(13.945,-3.01),(13.955,-2.54),(13.965,-2.85),(13.975,-2.70),(13.985,-3.14),(13.995,-2.58),(13.905,-2.75),(13.915,-3.05),(13.925,-2.67),(13.935,-3.17),(13.945,-2.82),(13.955,-2.96),(13.965,-2.57),(13.975,-2.91),(13.985,-2.73),(13.995,-3.06),
(12.56,-1.42),(12.65,-1.44),(12.79,-1.53),(12.84,-1.49),(12.88,-1.48),(13.03,-1.65),(13.13,-1.71),(13.17,-1.72),(13.20,-1.75),(13.22,-1.81),(13.26,-1.81),(13.29,-1.87),(13.32,-1.99),(13.41,-2.00),(13.45,-2.02),(13.53,-2.13),(13.68,-2.00),(13.72,-2.08),(13.79,-2.24),(13.91,-2.30),(13.95,-2.36),(13.65,-2.15),(13.74,-2.20),
(11.16,-3.27),(11.20,-3.01),(11.38,-3.15),(11.49,-3.19),(11.52,-3.07),(11.57,-3.08),(11.53,-2.89),(11.67,-2.96),(11.79,-2.83),(11.87,-2.84),(11.96,-2.82),(11.93,-2.89),(11.98,-3.03),(12.04,-2.96),(12.10,-2.99),(12.12,-3.19),(12.11,-3.31),(12.25,-3.29),(12.33,-3.32),(12.37,-3.29),(12.59,-3.33),(12.70,-3.40),(12.50,-3.12),(12.36,-2.98),(12.38,-3.03),(12.23,-3.03),(12.26,-3.00),(12.28,-3.06),(12.20,-2.99),(12.19,-2.90),(12.26,-2.91),(12.15,-2.91),(12.12,-2.88),(12.14,-2.83),(12.44,-2.94),(12.50,-2.93),(12.46,-2.89),(12.63,-2.93),(12.66,-2.90),(12.71,-2.85),(12.84,-3.46),(12.74,-3.21),(12.80,-3.34),(12.81,-3.29),(13.20,-3.32),(13.42,-3.32),(13.48,-3.29),(13.71,-3.38),(13.77,-3.36),(13.80,-3.35),(13.73,-3.32),(13.70,-3.31),(13.85,-3.32),(13.87,-3.29),(13.93,-3.31),(13.94,-3.22),(13.72,-3.26),(13.75,-3.25),(13.57,-3.16),(13.58,-3.20),(13.65,-3.16),(13.66,-3.19),(13.67,-3.14),(13.73,-3.14),(13.15,-3.17),(13.18,-3.16),(13.20,-3.13),(13.16,-3.11),(13.42,-3.13),(13.46,-3.11),(13.26,-3.06),(13.16,-3.06),(12.99,-3.09),(12.97,-3.07),(12.89,-3.11),(12.84,-3.06),(12.88,-3.07),(12.96,-3.01),(12.99,-3.00),(12.93,-2.95),(12.86,-3.01),(10.92,-2.94),(10.96,-3.05),(11.19,-2.37),
]

legend_labels = ["mean central", "mean satellites", "Behroozi et al. 2012 best fit", "blue galaxies", "red galaxies"]

# ---------------- styling ----------------
sns.set_theme(style="ticks")
plt.rcParams.update({
    "font.family": ["cmr10", "DejaVu Serif"],
    "mathtext.fontset": "cm",
    "axes.formatter.use_mathtext": True,
    "axes.unicode_minus": False,
    "axes.linewidth": 1.6,
    "axes.edgecolor": "black",
    "text.color": "black",
    "axes.labelcolor": "black",
    "xtick.color": "black",
    "ytick.color": "black",
})

W, H = 1525, 1158
fig = plt.figure(figsize=(W / 100, H / 100), dpi=100, facecolor="#4e5360")
fig.add_artist(Rectangle((13 / W, 0), 1, 1 - 12 / H, transform=fig.transFigure,
                         facecolor="white", edgecolor="none", zorder=-10))

ax = fig.add_axes([206 / W, 1 - 1048 / H, (1395 - 206) / W, (1048 - 127) / H])
ax.set_xscale("log")
ax.set_yscale("log")

p = lambda a: 10 ** np.asarray(a, dtype=float)
blue = np.array(BLUE_PTS)
red = np.array(RED_PTS)

sns.scatterplot(x=p(blue[:, 0]), y=p(blue[:, 1]), color="blue", s=50, linewidth=0, ax=ax, zorder=2, legend=False)
sns.scatterplot(x=p(red[:, 0]), y=p(red[:, 1]), color="red", s=50, linewidth=0, ax=ax, zorder=2.1, legend=False)

def line(xs, ys, **kw):
    sns.lineplot(x=p(xs), y=p(ys), sort=False, estimator=None, ax=ax, legend=False, **kw)

line(central_logmh, central_logr, color="black", linewidth=8.2, zorder=3, solid_capstyle="butt")
line(bluemean_logmh, bluemean_logr, color="blue", linewidth=5.2, zorder=3.1, solid_capstyle="butt")
line(redmean_logmh, redmean_logr, color="red", linewidth=5.2, zorder=3.2, solid_capstyle="butt")
line(behroozi_logmh, behroozi_logr, color="purple", linewidth=8.0, zorder=3.3, solid_capstyle="butt")
line(sat_logmh, sat_logr, color="black", linewidth=9.5, linestyle=(0, (1, 1.2)), zorder=3.4)
line(mstar_logmh, mstar_logr, color="black", linewidth=3.0, linestyle=(0, (4.3, 2.9)), zorder=3.5)
line(fb_logmh, fb_logr, color="green", linewidth=3.6, linestyle=(0, (3.2, 3.2)), zorder=3.5)

ax.set_xlim(10 ** 10.2, 10 ** 14)
ax.set_ylim(10 ** -3.5, 10 ** -0.5)

ax.tick_params(which="both", direction="in", top=True, right=True, color="black", width=1.0)
ax.tick_params(which="major", length=8.5, labelsize=36, labelcolor="black")
ax.tick_params(which="minor", length=4.5)
ax.tick_params(axis="x", which="major", pad=3)
ax.tick_params(axis="y", which="major", pad=9)

ax.set_xlabel("Halo Mass", fontsize=36, color="black")
ax.xaxis.set_label_coords(0.5, -0.067)
ax.set_ylabel(r"$M_s/M_h$", fontsize=36, color="black")
ax.yaxis.set_label_coords(-0.113, 0.5)

# annotations
ax.text(p(10.31), p(-1.02), r"$f_b$", fontsize=34, ha="center", va="center", zorder=5)
ax.annotate("", xy=(p(10.489), p(-0.842)), xytext=(p(10.399), p(-0.940)),
            arrowprops=dict(arrowstyle="->", lw=1.8, color="black", mutation_scale=28))
ax.text(p(11.19), p(-1.45), r"$M_s = M^{*}$", fontsize=38, ha="center", va="center", zorder=5)
ax.annotate("", xy=(p(11.684), p(-1.112)), xytext=(p(11.319), p(-1.383)),
            arrowprops=dict(arrowstyle="->", lw=1.8, color="black", mutation_scale=28))

handles = [
    Line2D([], [], color="black", lw=9.5, solid_capstyle="butt"),
    Line2D([], [], color="black", lw=12, linestyle=(0, (1, 1.1))),
    Line2D([], [], color="purple", lw=7.5, solid_capstyle="butt"),
    ax.collections[0],
    ax.collections[1],
]
leg = ax.legend(handles, legend_labels, loc="upper left", bbox_to_anchor=((912 - 206) / 1189, 1 - (157 - 127) / 921),
                frameon=False, fontsize=22, handlelength=1.9, handletextpad=0.5, labelspacing=0.56,
                borderpad=0, borderaxespad=0, scatterpoints=3, markerscale=1.15)
leg.set_zorder(10)

fig.text(1520 / W, 1 - 112 / H, "Birrer+ 2014", color="red", fontsize=27,
         family="DejaVu Sans", ha="right", va="baseline")

fig.savefig("out.png", dpi=100, facecolor=fig.get_facecolor())
